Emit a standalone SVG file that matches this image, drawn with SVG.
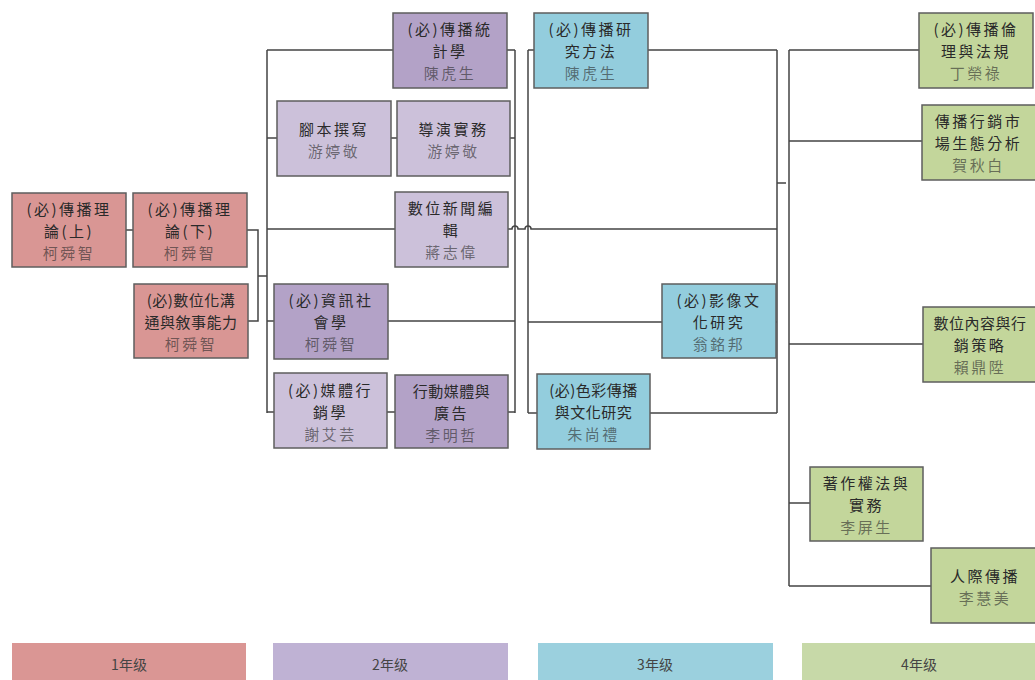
<svg xmlns="http://www.w3.org/2000/svg" width="1035" height="680" viewBox="0 0 1035 680">
<style>
text{font-family:"Noto Sans CJK TC","Noto Sans CJK SC",sans-serif;font-size:15px;text-anchor:middle;dominant-baseline:central;letter-spacing:2.5px}
.t{fill:#2a2a2a}
.n{fill:#2a2a2a;fill-opacity:0.6}
.tight{letter-spacing:0.5px}
.box{stroke:#5e5e5e;stroke-width:1.5}
.y1{fill:#d99694}
.y2d{fill:#b3a2c7}
.y2l{fill:#ccc1da}
.y3{fill:#93cddd}
.y4{fill:#c3d69b}
.conn path{fill:none;stroke:#444;stroke-width:1.5}
.leg text{fill:#444;font-size:14px;letter-spacing:0}
</style>
<rect width="1035" height="680" fill="#fff"/>
<g class="conn">
<path d="M126 230H133"/>
<path d="M247 230H258V321H248M258 276H267"/>
<path d="M267 50V413M267 50H393M267 138H277M391 138H397M510 138H515M267 229H395M267 321H274M267 412H274M387 412H395M508 412H515M507 50H515M388 321H515"/>
<path d="M515 50V413"/>
<path d="M508 229H512a3 3 0 0 1 6 0H525a3 3 0 0 1 6 0H777"/>
<path d="M528 50V413M528 50H534M648 50H777M528 322H662M776 322H777M528 413H537M650 413H777"/>
<path d="M777 50V413M777 183H786"/>
<path d="M789 50V586M789 50H919M789 141H922M789 344H923M789 503H810M789 586H931"/>
</g>
<g id="n-a"><rect class="box y1" x="12" y="193" width="114" height="74"/><text class="t" x="69" y="208">(必)傳播理</text><text class="t" x="69" y="230">論(上)</text><text class="n" x="69" y="252">柯舜智</text></g>
<g id="n-b"><rect class="box y1" x="133" y="193" width="114" height="74"/><text class="t" x="190" y="208">(必)傳播理</text><text class="t" x="190" y="230">論(下)</text><text class="n" x="190" y="252">柯舜智</text></g>
<g id="n-c"><rect class="box y1" x="134" y="284" width="114" height="74"/><text class="t tight" x="191" y="299">(必)數位化溝</text><text class="t tight" x="191" y="321">通與敘事能力</text><text class="n" x="191" y="343">柯舜智</text></g>
<g id="n-d"><rect class="box y2d" x="393" y="13" width="114" height="75"/><text class="t" x="450" y="28">(必)傳播統</text><text class="t" x="450" y="50">計學</text><text class="n" x="450" y="72">陳虎生</text></g>
<g id="n-e"><rect class="box y2l" x="277" y="101" width="114" height="75"/><text class="t" x="334" y="128">腳本撰寫</text><text class="n" x="334" y="150">游婷敬</text></g>
<g id="n-f"><rect class="box y2l" x="397" y="101" width="113" height="75"/><text class="t" x="453.5" y="128">導演實務</text><text class="n" x="453.5" y="150">游婷敬</text></g>
<g id="n-g"><rect class="box y2l" x="395" y="192" width="113" height="75"/><text class="t" x="451.5" y="207">數位新聞編</text><text class="t" x="451.5" y="229">輯</text><text class="n" x="451.5" y="251">蔣志偉</text></g>
<g id="n-h"><rect class="box y2d" x="274" y="284" width="114" height="75"/><text class="t" x="331" y="299">(必)資訊社</text><text class="t" x="331" y="321">會學</text><text class="n" x="331" y="343">柯舜智</text></g>
<g id="n-i"><rect class="box y2l" x="274" y="373" width="113" height="75"/><text class="t" x="330.5" y="389">(必)媒體行</text><text class="t" x="330.5" y="411">銷學</text><text class="n" x="330.5" y="433">謝艾芸</text></g>
<g id="n-j"><rect class="box y2d" x="395" y="375" width="113" height="73"/><text class="t tight" x="451.5" y="390">行動媒體與</text><text class="t" x="451.5" y="412">廣告</text><text class="n" x="451.5" y="434">李明哲</text></g>
<g id="n-k"><rect class="box y3" x="534" y="13" width="114" height="75"/><text class="t" x="591" y="28">(必)傳播研</text><text class="t" x="591" y="50">究方法</text><text class="n" x="591" y="72">陳虎生</text></g>
<g id="n-l"><rect class="box y3" x="662" y="284" width="114" height="74"/><text class="t" x="719" y="299">(必)影像文</text><text class="t" x="719" y="321">化研究</text><text class="n" x="719" y="343">翁銘邦</text></g>
<g id="n-m"><rect class="box y3" x="537" y="374" width="113" height="75"/><text class="t tight" x="593.5" y="389">(必)色彩傳播</text><text class="t tight" x="593.5" y="411">與文化研究</text><text class="n" x="593.5" y="433">朱尚禮</text></g>
<g id="n-n"><rect class="box y4" x="919" y="13" width="114" height="75"/><text class="t" x="976" y="28">(必)傳播倫</text><text class="t" x="976" y="50">理與法規</text><text class="n" x="976" y="72">丁榮祿</text></g>
<g id="n-o"><rect class="box y4" x="922" y="105" width="116" height="75"/><text class="t" x="978.5" y="120">傳播行銷市</text><text class="t" x="978.5" y="142">場生態分析</text><text class="n" x="978.5" y="164">賀秋白</text></g>
<g id="n-p"><rect class="box y4" x="923" y="307" width="115" height="75"/><text class="t tight" x="980" y="322">數位內容與行</text><text class="t" x="980" y="344">銷策略</text><text class="n" x="980" y="366">賴鼎陞</text></g>
<g id="n-q"><rect class="box y4" x="810" y="467" width="113" height="74"/><text class="t" x="866.5" y="482">著作權法與</text><text class="t" x="866.5" y="504">實務</text><text class="n" x="866.5" y="526">李屏生</text></g>
<g id="n-r"><rect class="box y4" x="931" y="548" width="108" height="75"/><text class="t" x="985" y="575">人際傳播</text><text class="n" x="985" y="597">李慧美</text></g>
<g class="leg" id="legend">
<rect x="12" y="643" width="234" height="40" fill="#da9694"/><text x="129" y="664">1年级</text>
<rect x="273" y="643" width="235" height="40" fill="#bfb2d4"/><text x="390" y="664">2年级</text>
<rect x="538" y="643" width="235" height="40" fill="#9bd0de"/><text x="655" y="664">3年级</text>
<rect x="802" y="643" width="235" height="40" fill="#c7d9a8"/><text x="919" y="664">4年级</text>
</g>
</svg>
